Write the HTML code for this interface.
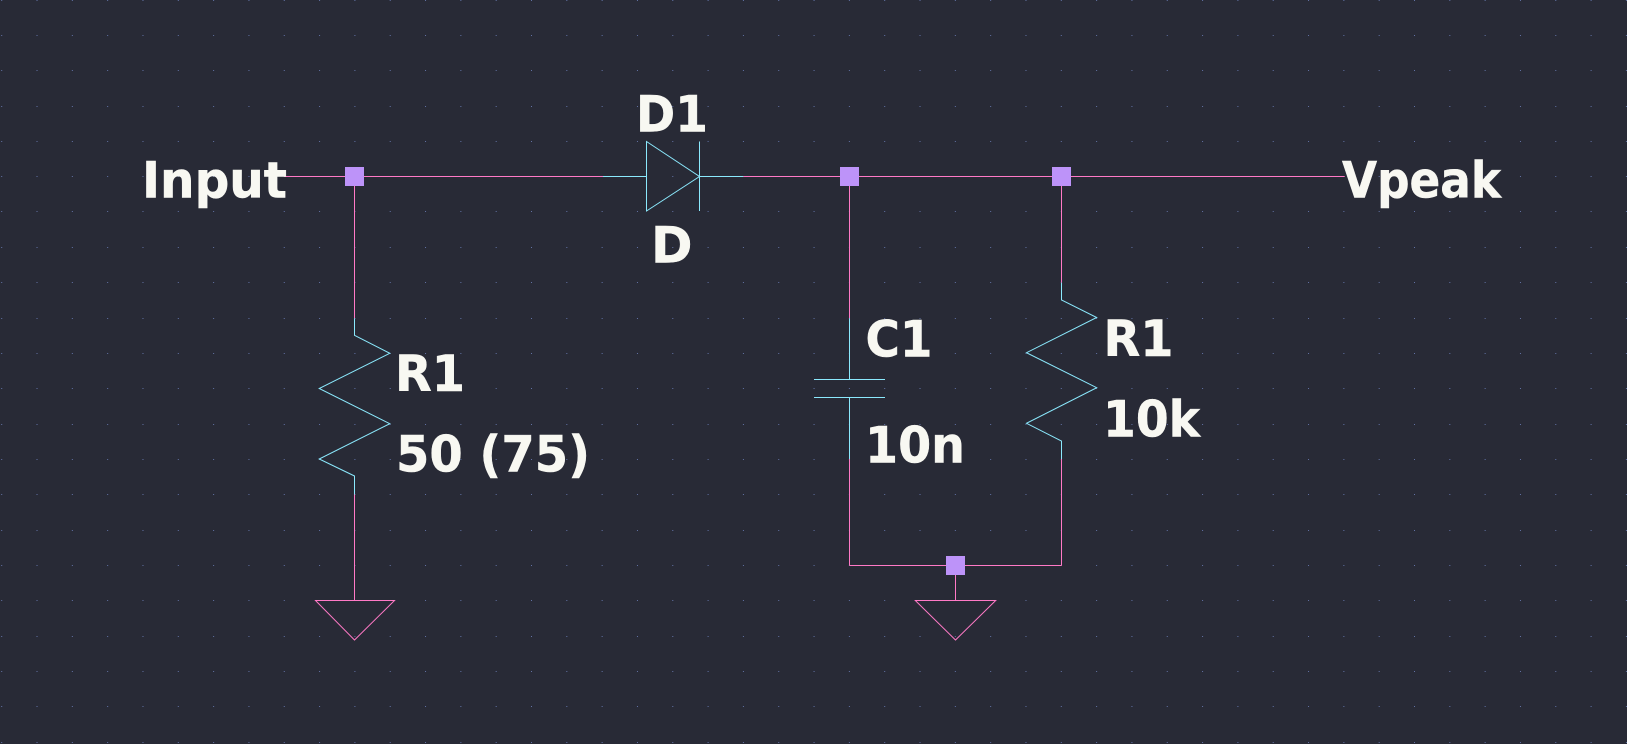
<!DOCTYPE html>
<html>
<head>
<meta charset="utf-8">
<style>
html,body{margin:0;padding:0;background:#282a36;}
body{width:1627px;height:744px;overflow:hidden;}
svg{display:block;}
text{font-family:"DejaVu Sans","Liberation Sans",sans-serif;font-weight:bold;font-size:50px;fill:#f8f8f2;stroke:#f8f8f2;stroke-width:0.5px;}
</style>
</head>
<body>
<svg width="1627" height="744" viewBox="0 0 1627 744" xmlns="http://www.w3.org/2000/svg">
<rect x="0" y="0" width="1627" height="744" fill="#282a36"/>
<g stroke="#6272a4" stroke-width="1" stroke-dasharray="1 34.32">
<line x1="1.2" y1="0.5" x2="1627" y2="0.5"/>
<line x1="1.2" y1="35.5" x2="1627" y2="35.5"/>
<line x1="1.2" y1="70.5" x2="1627" y2="70.5"/>
<line x1="1.2" y1="106.5" x2="1627" y2="106.5"/>
<line x1="1.2" y1="141.5" x2="1627" y2="141.5"/>
<line x1="1.2" y1="176.5" x2="1627" y2="176.5"/>
<line x1="1.2" y1="211.5" x2="1627" y2="211.5"/>
<line x1="1.2" y1="247.5" x2="1627" y2="247.5"/>
<line x1="1.2" y1="282.5" x2="1627" y2="282.5"/>
<line x1="1.2" y1="318.5" x2="1627" y2="318.5"/>
<line x1="1.2" y1="353.5" x2="1627" y2="353.5"/>
<line x1="1.2" y1="388.5" x2="1627" y2="388.5"/>
<line x1="1.2" y1="424.5" x2="1627" y2="424.5"/>
<line x1="1.2" y1="459.5" x2="1627" y2="459.5"/>
<line x1="1.2" y1="494.5" x2="1627" y2="494.5"/>
<line x1="1.2" y1="530.5" x2="1627" y2="530.5"/>
<line x1="1.2" y1="565.5" x2="1627" y2="565.5"/>
<line x1="1.2" y1="600.5" x2="1627" y2="600.5"/>
<line x1="1.2" y1="636.5" x2="1627" y2="636.5"/>
<line x1="1.2" y1="671.5" x2="1627" y2="671.5"/>
<line x1="1.2" y1="706.5" x2="1627" y2="706.5"/>
<line x1="1.2" y1="742.5" x2="1627" y2="742.5"/>
</g>

<!-- pink wires -->
<g stroke="#ff79c6" stroke-width="1" fill="none">
<line x1="284" y1="176.5" x2="603" y2="176.5"/>
<line x1="743.3" y1="176.5" x2="1344.7" y2="176.5"/>
<line x1="354.5" y1="176.5" x2="354.5" y2="318.3"/>
<line x1="354.5" y1="494.5" x2="354.5" y2="600.5"/>
<polygon points="315.5,600.5 394.5,600.5 354.5,640"/>
<line x1="849.5" y1="176.5" x2="849.5" y2="318.3"/>
<line x1="849.5" y1="459" x2="849.5" y2="565.5"/>
<line x1="1061.5" y1="176.5" x2="1061.5" y2="282.7"/>
<line x1="1061.5" y1="459" x2="1061.5" y2="565.5"/>
<line x1="849.5" y1="565.5" x2="1061.5" y2="565.5"/>
<line x1="955.5" y1="565.5" x2="955.5" y2="600.5"/>
<polygon points="915.3,600.5 995.7,600.5 955.5,640"/>
</g>

<!-- cyan components -->
<g stroke="#8be9fd" stroke-width="1" fill="none">
<!-- diode -->
<line x1="603" y1="176.5" x2="646.5" y2="176.5"/>
<polygon points="646.5,141.5 699.5,176.5 646.5,211"/>
<line x1="699.5" y1="141.5" x2="699.5" y2="211"/>
<line x1="699.5" y1="176.5" x2="743.3" y2="176.5"/>
<!-- left resistor -->
<polyline points="354.5,318.3 354.5,335.3 389.8,353.3 319.2,388.5 389.8,423.7 319.2,459 354.5,476 354.5,494.5"/>
<!-- capacitor -->
<line x1="849.5" y1="318.3" x2="849.5" y2="379.5"/>
<line x1="814" y1="379.5" x2="885" y2="379.5"/>
<line x1="814" y1="397.5" x2="885" y2="397.5"/>
<line x1="849.5" y1="397.5" x2="849.5" y2="459"/>
<!-- right resistor -->
<polyline points="1061.5,282.7 1061.5,300 1096.7,317.5 1026.5,352.7 1096.7,387.7 1026.5,423.3 1061.5,441 1061.5,459"/>
</g>

<!-- junctions -->
<g fill="#bd93f9">
<rect x="345" y="167" width="19" height="19"/>
<rect x="840" y="167" width="19" height="19"/>
<rect x="1052" y="167" width="19" height="19"/>
<rect x="946" y="556" width="19" height="19"/>
</g>

<!-- labels -->
<text x="142" y="197.7" textLength="145" lengthAdjust="spacingAndGlyphs">Input</text>
<text x="1342" y="197.7" textLength="159" lengthAdjust="spacingAndGlyphs">Vpeak</text>
<text x="636" y="131.7" textLength="72" lengthAdjust="spacingAndGlyphs">D1</text>
<text x="651" y="262.3">D</text>
<text x="395" y="391" textLength="70" lengthAdjust="spacingAndGlyphs">R1</text>
<text x="396" y="471.7" textLength="194" lengthAdjust="spacingAndGlyphs">50 (75)</text>
<text x="865.5" y="356.7" textLength="67" lengthAdjust="spacingAndGlyphs">C1</text>
<text x="865" y="462.7" textLength="100" lengthAdjust="spacingAndGlyphs">10n</text>
<text x="1103.5" y="356" textLength="70" lengthAdjust="spacingAndGlyphs">R1</text>
<text x="1103" y="436.7" textLength="97" lengthAdjust="spacingAndGlyphs">10k</text>
</svg>
</body>
</html>
